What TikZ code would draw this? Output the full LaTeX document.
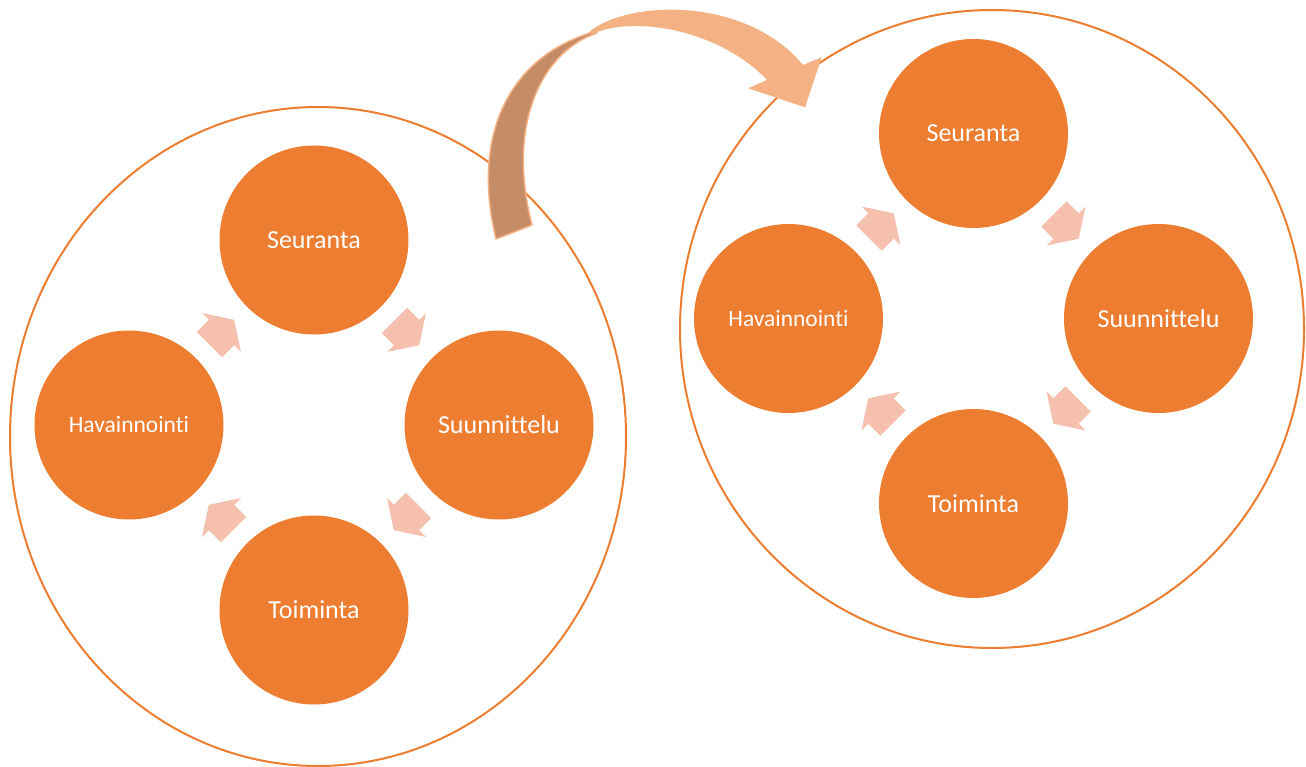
\documentclass[tikz,border=0pt]{standalone}
\usepackage{fontspec}
\setmainfont{Carlito}[Ligatures={NoCommon}]
\usetikzlibrary{calc,shapes.geometric}

\definecolor{accent}{HTML}{ED7D31}
\definecolor{tint}{HTML}{F5C0AD}
\definecolor{bandlight}{HTML}{F4B183}
\definecolor{banddark}{HTML}{C48C67}

\tikzset{
  phase/.style={circle, fill=accent, inner sep=0pt, minimum size=189pt,
    text=white, font=\fontsize{26}{30}\selectfont},
  smallphase/.style={phase, font=\fontsize{23.5}{28}\selectfont},
  frame/.style={ellipse, draw=accent, line width=2pt, inner sep=0pt},
  stepshape/.style={fill=tint},
}

% block arrow half way between two phases, turned by the given angle
\newcommand\cyclearrow[3]{%
  \begin{scope}[shift={($(#1)!0.5!(#2)$)}, rotate=#3]
    \fill[stepshape] (-17,-18) -- (0,-18) -- (0,-27.5) -- (18,0)
      -- (0,27.5) -- (0,18) -- (-17,18) -- cycle;
  \end{scope}}

\begin{document}
\begin{tikzpicture}[x=1pt, y=-1pt]
  \useasboundingbox (0,0) rectangle (1306,767);

  % outer frames
  \node[frame, minimum width=616pt, minimum height=659pt] (f1) at (318,436.5) {};
  \node[frame, minimum width=624pt, minimum height=638pt] (f2) at (992,329) {};

  % first cycle
  \node[phase] (s1) at (314,240) {Seuranta};
  \node[phase] (p1) at (499,425) {Suunnittelu};
  \node[phase] (t1) at (314,610) {Toiminta};
  \node[smallphase] (h1) at (129,425) {Havainnointi};

  \cyclearrow{h1}{s1}{45}
  \cyclearrow{s1}{p1}{-45}
  \cyclearrow{p1}{t1}{-135}
  \cyclearrow{t1}{h1}{135}

  % second cycle
  \node[phase] (s2) at (973.5,133.5) {Seuranta};
  \node[phase] (p2) at (1158.5,318.5) {Suunnittelu};
  \node[phase] (t2) at (973.5,503.5) {Toiminta};
  \node[smallphase] (h2) at (788.5,318.5) {Havainnointi};

  \cyclearrow{h2}{s2}{45}
  \cyclearrow{s2}{p2}{-45}
  \cyclearrow{p2}{t2}{-135}
  \cyclearrow{t2}{h2}{135}

  % curved arrow from the first frame to the second
  \fill[bandlight] (588,33) .. controls (625,0) and (745,-5) .. (803,65)
    -- (821.7,57.3) -- (805,107.3) -- (748.3,88.3) -- (767,80)
    .. controls (725,35) and (645,15) .. (597,32) -- cycle;
  \filldraw[fill=banddark, draw=bandlight, line width=1.5pt, line join=round]
    (496,239) .. controls (472,140) and (505,60) .. (590,33)
    -- (597,33) .. controls (545,50) and (505,120) .. (532,225) -- cycle;
\end{tikzpicture}
\end{document}
